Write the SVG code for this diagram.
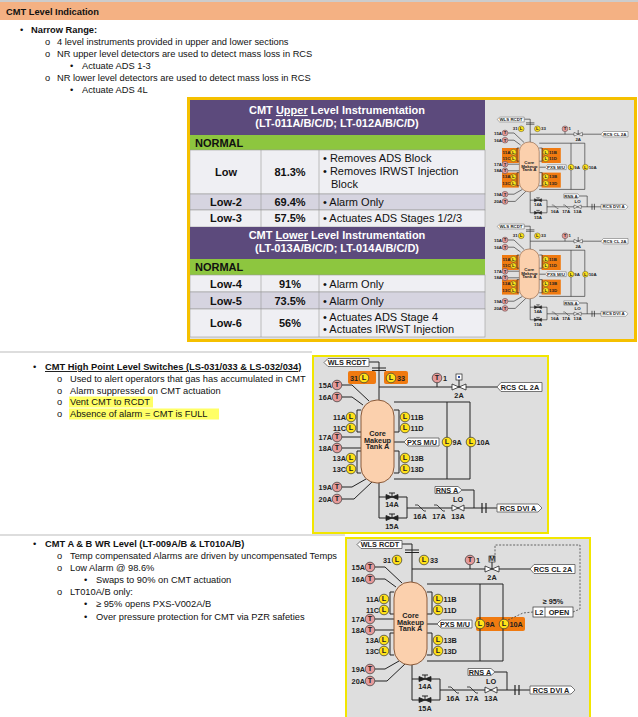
<svg xmlns="http://www.w3.org/2000/svg" width="638" height="717" viewBox="0 0 638 717">
<style>
.t{font-family:"Liberation Sans",Arial,sans-serif;font-size:9.3px;fill:#111}
.b{font-weight:bold}
.th{font-family:"Liberation Sans",Arial,sans-serif;font-weight:bold;fill:#fff;font-size:11px;text-anchor:middle}
.tc{font-family:"Liberation Sans",Arial,sans-serif;font-size:11px;fill:#111}
.s{font-family:"Liberation Sans",Arial,sans-serif;font-weight:bold;font-size:7.3px;fill:#222}
.e{text-anchor:end}
.m{text-anchor:middle}
.p{fill:none;stroke:#222;stroke-width:1}
.tag{fill:#fff;stroke:#555;stroke-width:.8}
.ci{stroke:#333;stroke-width:.7}
</style>
<defs>
<g id="Ti"><circle r="4.8" fill="#e59a9a" class="ci"/><text y="2.4" class="s m" font-size="6.3">T</text></g>
<g id="Li"><circle r="4.8" fill="#ffe11a" class="ci"/><text y="2.4" class="s m" font-size="6.3">L</text></g>
<g id="base">
<g class="p">
<polyline points="57,7 67,7 67,45"/>
<line x1="60" y1="13" x2="74" y2="13"/><line x1="60" y1="15.5" x2="74" y2="15.5"/>
<line x1="67" y1="32" x2="185" y2="32"/>
<line x1="125" y1="27" x2="125" y2="32"/>
<line x1="147" y1="32" x2="147" y2="25"/>
<polyline points="82,47 158,47 158,124 82,124"/>
<line x1="135" y1="47" x2="135" y2="124"/>
<polyline points="30,30 40,30 57,46"/>
<polyline points="30,42 40,42 51,50"/>
<polyline points="49,55 45,55 45,77 49,77"/>
<polyline points="82,55 87,55 87,77 82,77"/>
<polyline points="49,96 45,96 45,118 49,118"/>
<polyline points="82,96 87,96 87,118 82,118"/>
<line x1="30" y1="82" x2="49" y2="82"/><line x1="30" y1="93" x2="49" y2="93"/>
<polyline points="30,132 40,132 54,124"/>
<polyline points="30,144 42,144 60,127"/>
<line x1="82" y1="87" x2="92" y2="87"/>
<polyline points="67,128 67,163 95,163 95,142 67,142"/>
<line x1="95" y1="153" x2="185" y2="153"/>
<polyline points="150,135 162,135 162,153"/>
<line x1="80" y1="142" x2="80" y2="138"/><line x1="77" y1="138" x2="83" y2="138"/>
<line x1="80" y1="163" x2="80" y2="159"/><line x1="77" y1="159" x2="83" y2="159"/>
</g>
<g fill="#fff" stroke="#222" stroke-width=".8">
<polygon points="140,29 140,35 154,29 154,35"/>
<polygon points="74,139.5 74,144.5 86,139.5 86,144.5" fill="#222"/>
<polygon points="74,160.5 74,165.5 86,160.5 86,165.5" fill="#222"/>
<polygon points="140,150 140,156 152,150 152,156"/>
<polyline points="103,150 106,150 112,156 114,156" fill="none"/>
<polyline points="122,150 125,150 131,156 133,156" fill="none"/>
</g>
<g stroke="#222" stroke-width="1.2"><line x1="170" y1="148" x2="170" y2="158"/><line x1="174" y1="148" x2="174" y2="158"/></g>
<rect x="49" y="45" width="33" height="83" rx="16" fill="#fbd0ad" stroke="#8a5a3a" stroke-width="1"/>
<text x="65.5" y="81" class="s m" font-weight="normal" font-size="5.5">Core</text>
<text x="65.5" y="87.5" class="s m" font-weight="normal" font-size="5.5">Makeup</text>
<text x="65.5" y="94" class="s m" font-weight="normal" font-size="5.5">Tank A</text>
<polygon class="tag" points="16,3.5 57,3.5 57,11.5 16,11.5 12,7.5"/><text x="35" y="10.2" class="s m">WLS RCDT</text>
<polygon class="tag" points="189,27.5 230,27.5 230,36.5 189,36.5 185,32"/><text x="208" y="34.7" class="s m">RCS CL 2A</text>
<polygon class="tag" points="96,83 127,83 127,91 96,91 92,87"/><text x="110" y="89.7" class="s m">PXS M/U</text>
<polygon class="tag" points="123,131.5 146,131.5 150,135 146,138.5 123,138.5"/><text x="135" y="137.7" class="s m">RNS A</text>
<polygon class="tag" points="185,149 226,149 230,153 226,157 185,157"/><text x="206" y="155.7" class="s m">RCS DVI A</text>
<use href="#Ti" x="25" y="30"/><text x="20" y="32.5" class="s e">15A</text>
<use href="#Ti" x="25" y="42"/><text x="20" y="44.5" class="s e">16A</text>
<use href="#Li" x="39" y="62"/><text x="34" y="64.5" class="s e">11A</text>
<use href="#Li" x="39" y="73"/><text x="34" y="75.5" class="s e">11C</text>
<use href="#Li" x="93" y="62"/><text x="98.5" y="64.5" class="s">11B</text>
<use href="#Li" x="93" y="73"/><text x="98.5" y="75.5" class="s">11D</text>
<use href="#Ti" x="25" y="82"/><text x="20" y="84.5" class="s e">17A</text>
<use href="#Ti" x="25" y="93"/><text x="20" y="95.5" class="s e">18A</text>
<use href="#Li" x="39" y="103"/><text x="34" y="105.5" class="s e">13A</text>
<use href="#Li" x="39" y="114"/><text x="34" y="116.5" class="s e">13C</text>
<use href="#Li" x="93" y="103"/><text x="98.5" y="105.5" class="s">13B</text>
<use href="#Li" x="93" y="114"/><text x="98.5" y="116.5" class="s">13D</text>
<use href="#Ti" x="25" y="132"/><text x="20" y="134.5" class="s e">19A</text>
<use href="#Ti" x="25" y="144"/><text x="20" y="146.5" class="s e">20A</text>
<use href="#Li" x="52" y="23"/><text x="46" y="25.5" class="s e">31</text>
<use href="#Li" x="79" y="23"/><text x="85" y="25.5" class="s">33</text>
<use href="#Ti" x="125" y="23"/><text x="131" y="25.5" class="s">1</text>
<text x="147" y="42.5" class="s m">2A</text>
<use href="#Li" x="135" y="87"/><text x="140.5" y="89.5" class="s">9A</text>
<use href="#Li" x="159" y="87"/><text x="164.5" y="89.5" class="s">10A</text>
<text x="80" y="151.5" class="s m">14A</text><text x="80" y="173.5" class="s m">15A</text>
<text x="108" y="163.5" class="s m">16A</text><text x="127" y="163.5" class="s m">17A</text>
<text x="146" y="147" class="s m">LO</text><text x="146" y="163.5" class="s m">13A</text>
</g>
</defs>

<g id="header">
<line x1="0" y1="1" x2="638" y2="1" stroke="#999"/>
<rect x="0" y="2" width="638" height="18" fill="#f4b183"/>
<text x="6" y="15" class="t b" font-size="9.5">CMT Level Indication</text>
</g>

<g id="narrow-range">
<text x="20" y="33" class="t">•</text><text x="31" y="33" class="t b">Narrow Range:</text>
<text x="45" y="45" class="t">o</text><text x="57" y="45" class="t">4 level instruments provided in upper and lower sections</text>
<text x="45" y="57" class="t">o</text><text x="57" y="57" class="t">NR upper level detectors are used to detect mass loss in RCS</text>
<text x="70" y="69" class="t">•</text><text x="82" y="69" class="t">Actuate ADS 1-3</text>
<text x="45" y="81" class="t">o</text><text x="57" y="81" class="t">NR lower level detectors are used to detect mass loss in RCS</text>
<text x="70" y="93" class="t">•</text><text x="82" y="93" class="t">Actuate ADS 4L</text>
</g>

<g id="table">
<rect x="187" y="97" width="450" height="245" fill="#e0e0e0"/>
<rect x="190" y="100" width="295" height="35" fill="#5c4a7c"/>
<text x="337" y="114" class="th">CMT <tspan text-decoration="underline">Upper</tspan> Level Instrumentation</text>
<text x="337" y="127" class="th">(LT-011A/B/C/D; LT-012A/B/C/D)</text>
<rect x="190" y="135" width="295" height="15" fill="#8dc63f"/>
<text x="195" y="146.5" class="tc b">NORMAL</text>
<g stroke="#999" stroke-width=".6">
<rect x="190" y="150" width="295" height="44" fill="#efeff3"/>
<rect x="190" y="194" width="295" height="16" fill="#d6d4e0"/>
<rect x="190" y="210" width="295" height="17" fill="#efeff3"/>
<line x1="261" y1="150" x2="261" y2="227"/><line x1="319" y1="150" x2="319" y2="227"/>
</g>
<text x="226" y="176" class="tc b m">Low</text><text x="290" y="176" class="tc b m">81.3%</text>
<text x="323" y="162" class="tc">• Removes ADS Block</text>
<text x="323" y="175" class="tc">• Removes IRWST Injection</text>
<text x="331" y="188" class="tc">Block</text>
<text x="226" y="206" class="tc b m">Low-2</text><text x="290" y="206" class="tc b m">69.4%</text><text x="323" y="206" class="tc">• Alarm Only</text>
<text x="226" y="222" class="tc b m">Low-3</text><text x="290" y="222" class="tc b m">57.5%</text><text x="323" y="222" class="tc">• Actuates ADS Stages 1/2/3</text>
<rect x="190" y="227" width="295" height="32" fill="#5c4a7c"/>
<text x="337" y="239" class="th">CMT <tspan text-decoration="underline">Lower</tspan> Level Instrumentation</text>
<text x="337" y="252" class="th">(LT-013A/B/C/D; LT-014A/B/C/D)</text>
<rect x="190" y="259" width="295" height="16" fill="#8dc63f"/>
<text x="195" y="271" class="tc b">NORMAL</text>
<g stroke="#999" stroke-width=".6">
<rect x="190" y="275" width="295" height="17" fill="#efeff3"/>
<rect x="190" y="292" width="295" height="17" fill="#d6d4e0"/>
<rect x="190" y="309" width="295" height="28" fill="#efeff3"/>
<line x1="261" y1="275" x2="261" y2="337"/><line x1="319" y1="275" x2="319" y2="337"/>
</g>
<text x="226" y="287.5" class="tc b m">Low-4</text><text x="290" y="287.5" class="tc b m">91%</text><text x="323" y="287.5" class="tc">• Alarm Only</text>
<text x="226" y="304.5" class="tc b m">Low-5</text><text x="290" y="304.5" class="tc b m">73.5%</text><text x="323" y="304.5" class="tc">• Alarm Only</text>
<text x="226" y="327" class="tc b m">Low-6</text><text x="290" y="327" class="tc b m">56%</text>
<text x="323" y="321" class="tc">• Actuates ADS Stage 4</text><text x="323" y="333" class="tc">• Actuates IRWST Injection</text>
</g>

<g id="mini-schematics">
<g transform="translate(490,115) scale(0.6)">
<g fill="#f07a10"><rect x="20" y="55" width="28" height="25"/><rect x="86" y="55" width="32" height="25"/><rect x="20" y="96" width="28" height="25"/><rect x="86" y="96" width="32" height="25"/></g>
<use href="#base"/>
</g>
<g transform="translate(490,222) scale(0.6)">
<g fill="#f07a10"><rect x="20" y="55" width="28" height="25"/><rect x="86" y="55" width="32" height="25"/><rect x="20" y="96" width="28" height="25"/><rect x="86" y="96" width="32" height="25"/></g>
<use href="#base"/>
</g>
</g>
<rect x="188.5" y="98.5" width="447" height="242" fill="none" stroke="#f5c000" stroke-width="3"/>

<g id="sections" stroke="#bbb" stroke-width="1">
<line x1="0" y1="352" x2="312" y2="352"/>
<line x1="0" y1="535" x2="345" y2="535"/>
</g>

<g id="high-point-text">
<text x="33" y="370" class="t">•</text><text x="45" y="370" class="t b" text-decoration="underline">CMT High Point Level Switches (LS-031/033 &amp; LS-032/034)</text>
<text x="57" y="382" class="t">o</text><text x="70" y="382" class="t">Used to alert operators that gas has accumulated in CMT</text>
<text x="57" y="394" class="t">o</text><text x="70" y="394" class="t">Alarm suppressed on CMT actuation</text>
<rect x="69" y="396.5" width="84" height="11" fill="#ffff66"/>
<text x="57" y="405" class="t">o</text><text x="70" y="405" class="t">Vent CMT to RCDT</text>
<rect x="69" y="408.5" width="150" height="11" fill="#ffff66"/>
<text x="57" y="417" class="t">o</text><text x="70" y="417" class="t">Absence of alarm = CMT is FULL</text>
</g>

<g id="high-point-schematic" transform="translate(312,355)">
<rect x="1" y="1" width="235" height="177" fill="#dedede" stroke="#f2e600" stroke-width="2"/>
<rect x="36" y="16" width="28" height="13" rx="2" fill="#f07a10"/>
<rect x="72" y="16" width="24" height="13" rx="2" fill="#f07a10"/>
<use href="#base"/>
<rect x="144" y="19" width="6" height="6" fill="#fff" stroke="#222" stroke-width=".7"/>
<rect x="146" y="21" width="2" height="2" fill="#2a4aa0"/>
</g>

<g id="wr-text">
<text x="33" y="547" class="t">•</text><text x="45" y="547" class="t b">CMT A &amp; B WR Level (LT-009A/B &amp; LT010A/B)</text>
<text x="57" y="559" class="t">o</text><text x="70" y="559" class="t">Temp compensated Alarms are driven by uncompensated Temps</text>
<text x="57" y="571" class="t">o</text><text x="70" y="571" class="t">Low Alarm @ 98.6%</text>
<text x="84" y="583" class="t">•</text><text x="96" y="583" class="t">Swaps to 90% on CMT actuation</text>
<text x="57" y="595" class="t">o</text><text x="70" y="595" class="t">LT010A/B only:</text>
<text x="84" y="607" class="t">•</text><text x="96" y="607" class="t">≥ 95% opens PXS-V002A/B</text>
<text x="84" y="620" class="t">•</text><text x="96" y="620" class="t">Over pressure protection for CMT via PZR safeties</text>
</g>

<g id="wr-schematic" transform="translate(345,537)">
<rect x="1" y="1" width="244" height="181" fill="#dedede" stroke="#f2e600" stroke-width="2"/>
<rect x="131" y="80" width="49" height="14" rx="2" fill="#f07a10"/>
<use href="#base"/>
<rect x="144" y="19" width="6" height="6" fill="#fff" stroke="#222" stroke-width=".7"/>
<text x="147" y="24" class="s m" font-size="4">M</text>
<g fill="none" stroke="#444" stroke-width=".8" stroke-dasharray="2,1.5">
<polyline points="163,83 178,76 188,75"/>
<polyline points="228,75 235,72 235,8 150,8 150,19"/>
</g>
<rect x="188" y="70" width="40" height="10" fill="#fff" stroke="#333" stroke-width=".7"/>
<line x1="200" y1="70" x2="200" y2="80" stroke="#333" stroke-width=".7"/>
<text x="194" y="77.5" class="s m">L2</text><text x="214" y="77.5" class="s m">OPEN</text>
<text x="208" y="67" class="s m" fill="#d02020" font-weight="normal">≥ 95%</text>
</g>
</svg>
